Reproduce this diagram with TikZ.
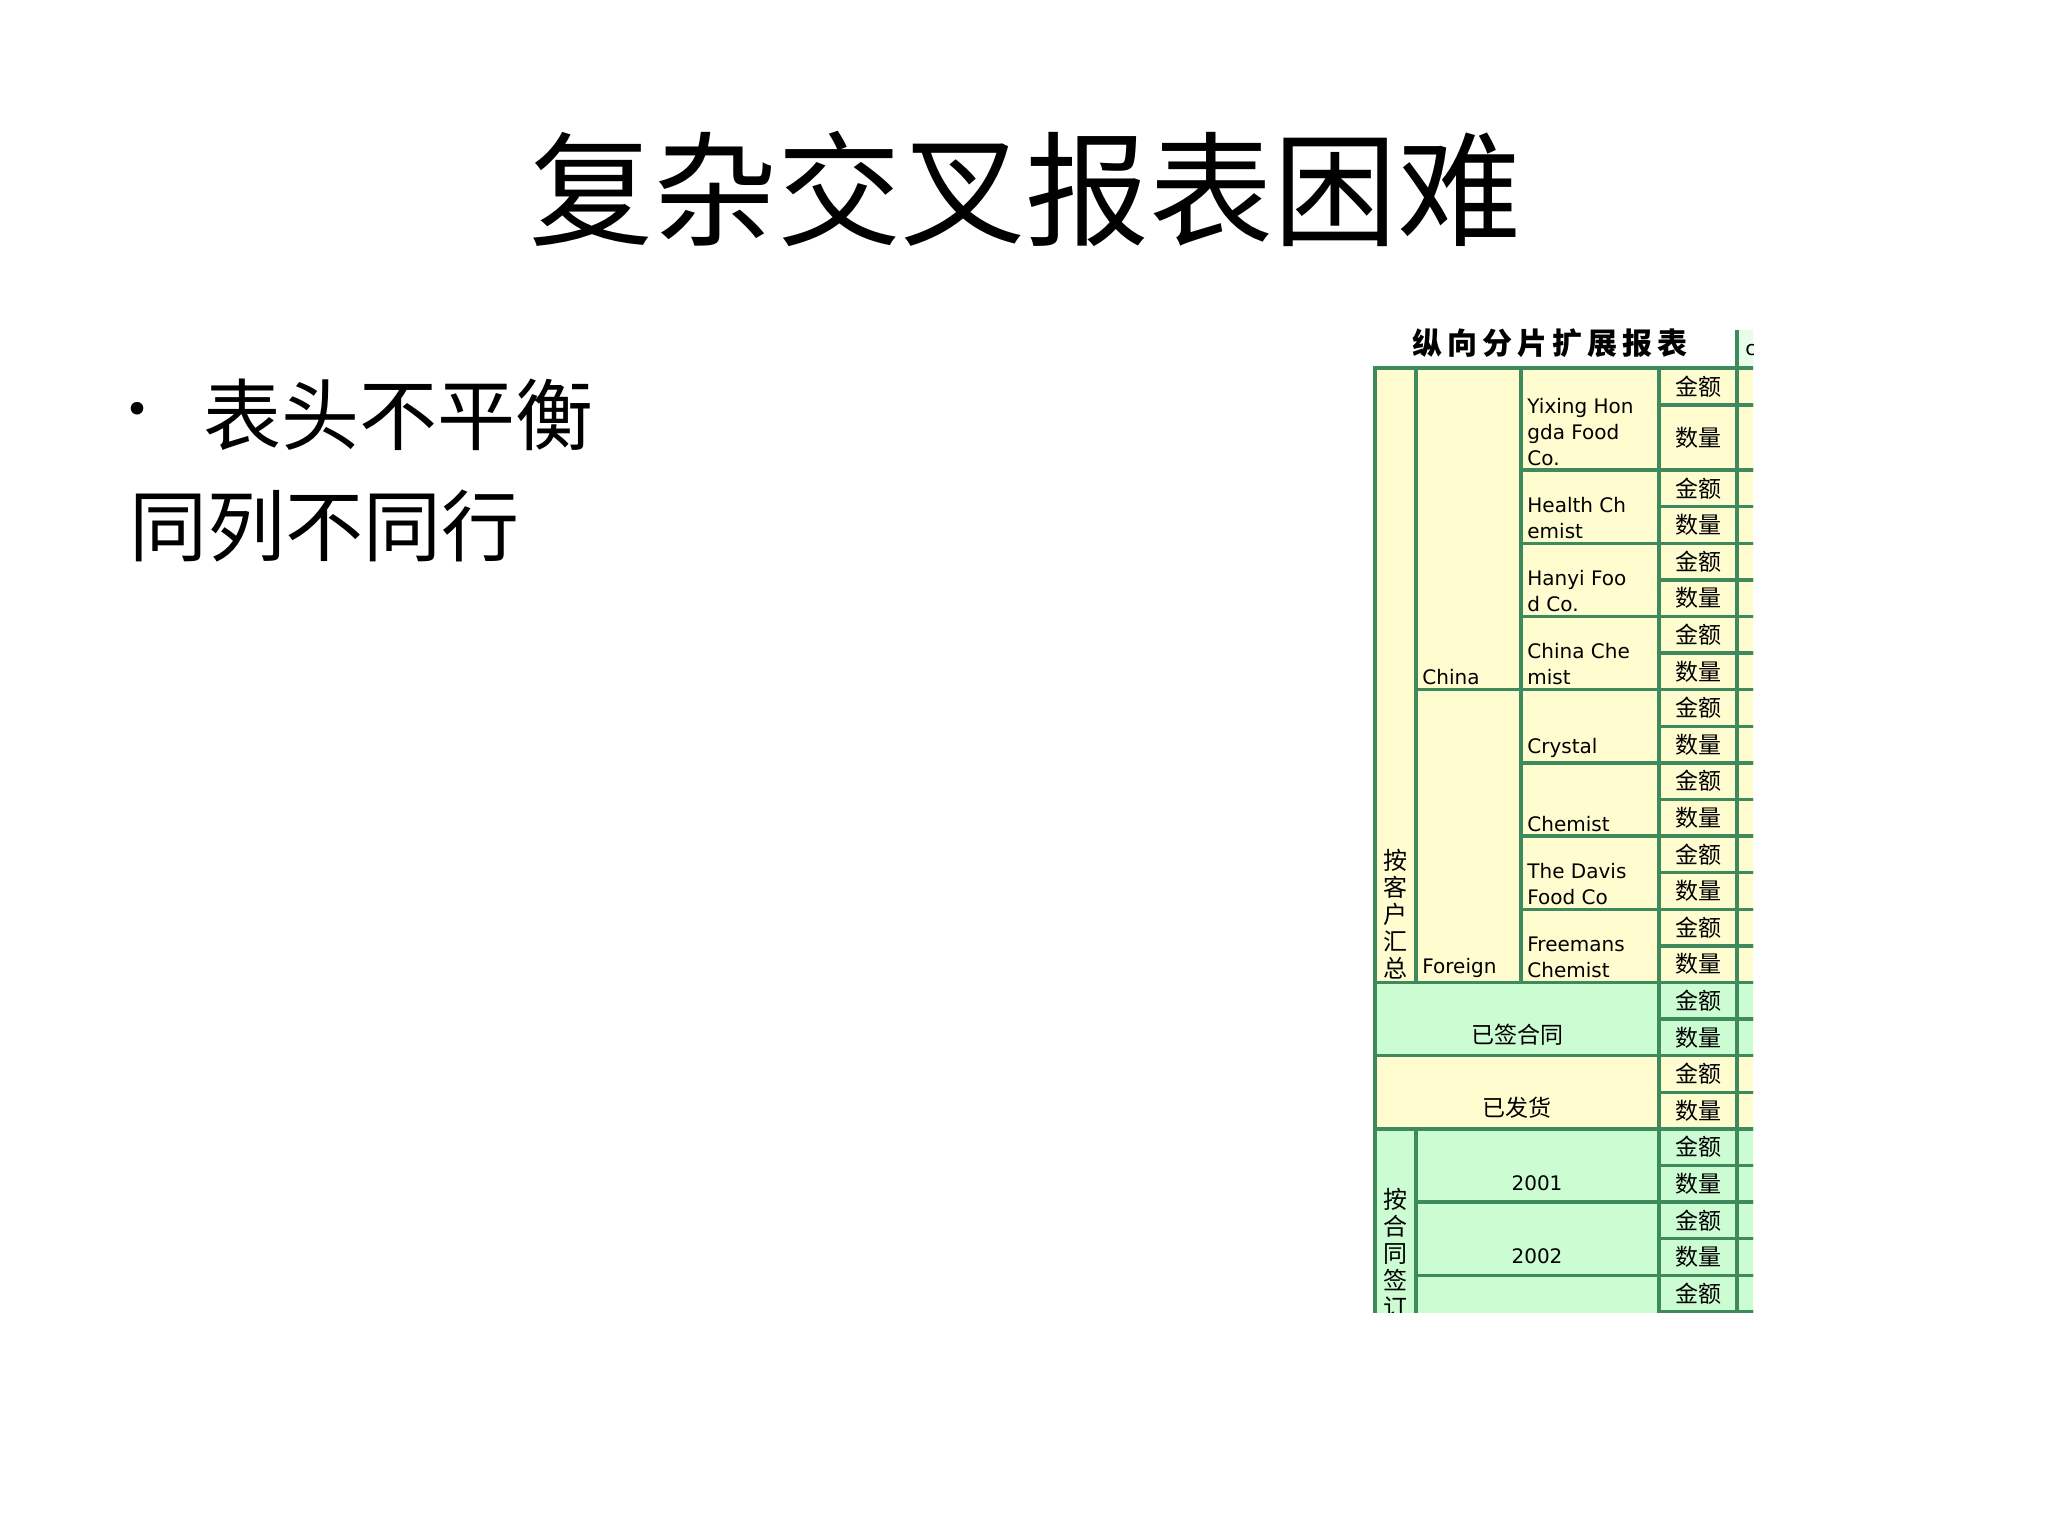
\documentclass[tikz,border=0pt]{standalone}
\usepackage{fontspec}
\newfontfamily\cjk{Noto Sans CJK SC}
\newfontfamily\cjkb{Noto Sans CJK SC Black}
\newfontfamily\lat{DejaVu Sans}
\definecolor{cream}{HTML}{FFFDD0}
\definecolor{mint}{HTML}{CCFCD2}
\definecolor{bord}{HTML}{3E8A5C}
\begin{document}
\begin{tikzpicture}[x=0.5pt,y=-0.5pt,
  cell/.style={draw=bord,line width=1.7pt},
  unit/.style={font=\cjk\fontsize{11.5}{12}\selectfont,inner sep=0pt},
  nm/.style={font=\lat\fontsize{10}{13}\selectfont,align=left,anchor=south west,inner sep=0pt},
  vt/.style={font=\cjk\fontsize{12}{13.5}\selectfont,align=center,anchor=south,inner sep=0pt}]
\useasboundingbox (0,0) rectangle (2048,1536);
\node (title) at (1025,189) {\cjk\fontsize{62}{70}\selectfont 复杂交叉报表困难};
\node (bul) at (137,417) {\cjk\fontsize{30}{30}\selectfont •};
\node[anchor=west] (b1) at (196,415) {\cjk\fontsize{39}{44}\selectfont 表头不平衡};
\node[anchor=west] (b2) at (122,526) {\cjk\fontsize{39}{44}\selectfont 同列不同行};
\begin{scope}
\clip (1368,320) rectangle (1753,1312);
% header
\fill[mint!50] (1737,330) rectangle (1760,368);
\draw[cell] (1737,330) -- (1737,368);
\node[anchor=west,inner sep=0pt,font=\lat\fontsize{10}{12}\selectfont] (hc) at (1745,350) {c};
\node (ht) at (1550,343) {\cjkb\fontsize{15}{16}\selectfont 纵\,向\,分\,片\,扩\,展\,报\,表};
% unit cells
\foreach \t/\m/\b/\c in {368/405/470/cream,470/506.6/543.2/cream,543.2/579.8/616.4/cream,616.4/653/689.6/cream,689.6/726.2/762.8/cream,762.8/799.4/836/cream,836/872.6/909.2/cream,909.2/945.8/982.4/cream,982.4/1019/1055.6/mint,1055.6/1092.2/1128.8/cream,1128.8/1165.4/1202/mint,1202/1238.6/1275.2/mint,1275.2/1311.8/1348.4/mint}{
  \filldraw[cell,fill=\c] (1659,\t) rectangle (1737,\m);
  \filldraw[cell,fill=\c] (1659,\m) rectangle (1737,\b);
  \filldraw[cell,fill=\c] (1737,\t) rectangle (1770,\m);
  \filldraw[cell,fill=\c] (1737,\m) rectangle (1770,\b);
  \node[unit] at (1698,{(\t+\m)/2}) {金额};
  \node[unit] at (1698,{(\m+\b)/2}) {数量};
}
% left blocks
\filldraw[cell,fill=cream] (1375,368) rectangle (1416,982.4);
\node[vt] (v1) at (1395.5,980) {按\\客\\户\\汇\\总};
\filldraw[cell,fill=cream] (1416,368) rectangle (1521,689.6);
\node[nm] (china) at (1422,685) {China};
\filldraw[cell,fill=cream] (1416,689.6) rectangle (1521,982.4);
\node[nm] (foreign) at (1422,978) {Foreign};
\filldraw[cell,fill=cream] (1521,368) rectangle (1659,470);
\node[nm] (n1) at (1527,466) {Yixing Hon\\gda Food\\Co.};
\filldraw[cell,fill=cream] (1521,470) rectangle (1659,543.2);
\node[nm] (n2) at (1527,539) {Health Ch\\emist};
\filldraw[cell,fill=cream] (1521,543.2) rectangle (1659,616.4);
\node[nm] (n3) at (1527,612) {Hanyi Foo\\d Co.};
\filldraw[cell,fill=cream] (1521,616.4) rectangle (1659,689.6);
\node[nm] (n4) at (1527,685) {China Che\\mist};
\filldraw[cell,fill=cream] (1521,689.6) rectangle (1659,762.8);
\node[nm] (n5) at (1527,758) {Crystal};
\filldraw[cell,fill=cream] (1521,762.8) rectangle (1659,836);
\node[nm] (n6) at (1527,832) {Chemist};
\filldraw[cell,fill=cream] (1521,836) rectangle (1659,909.2);
\node[nm] (n7) at (1527,905) {The Davis\\Food Co};
\filldraw[cell,fill=cream] (1521,909.2) rectangle (1659,982.4);
\node[nm] (n8) at (1527,978) {Freemans\\Chemist};
\filldraw[cell,fill=mint] (1375,982.4) rectangle (1659,1055.6);
\node[unit] (s1) at (1517,1035) {已签合同};
\filldraw[cell,fill=cream] (1375,1055.6) rectangle (1659,1128.8);
\node[unit] (s2) at (1517,1108) {已发货};
\filldraw[cell,fill=mint] (1375,1128.8) rectangle (1416,1348.4);
\node[vt,anchor=north] (v2) at (1395.5,1188) {按\\合\\同\\签\\订};
\filldraw[cell,fill=mint] (1416,1128.8) rectangle (1659,1202);
\node[unit,font=\lat\fontsize{10}{12}\selectfont] (y1) at (1537,1183) {2001};
\filldraw[cell,fill=mint] (1416,1202) rectangle (1659,1275.2);
\node[unit,font=\lat\fontsize{10}{12}\selectfont] (y2) at (1537,1256) {2002};
\filldraw[cell,fill=mint] (1416,1275.2) rectangle (1659,1348.4);
\end{scope}
\end{tikzpicture}
\end{document}
